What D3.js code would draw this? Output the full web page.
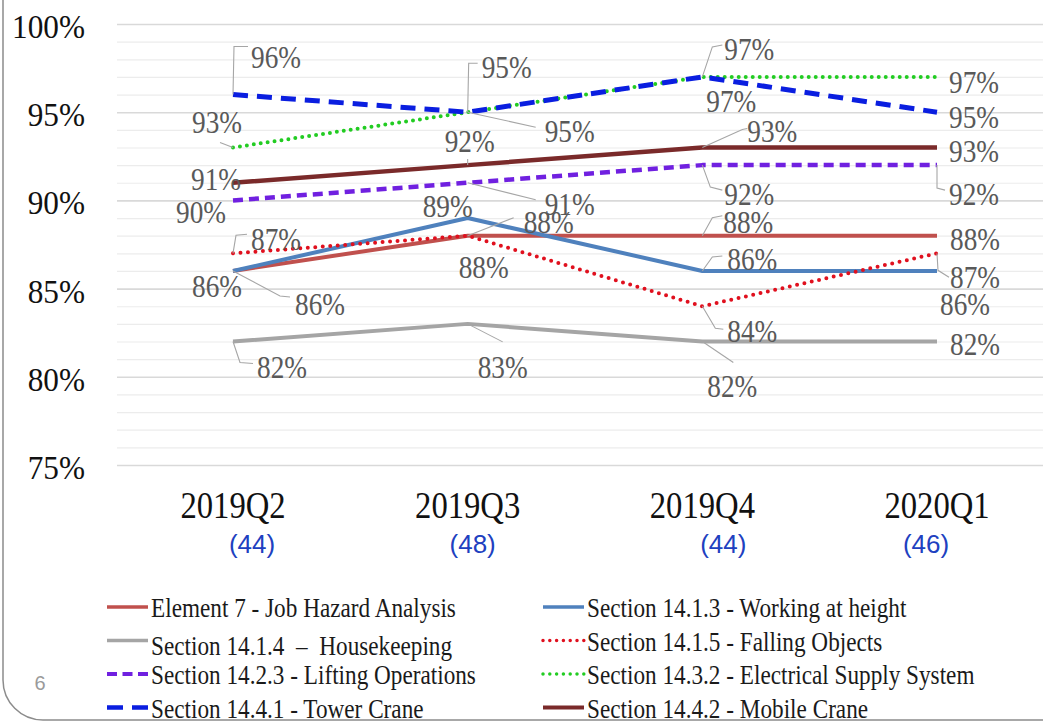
<!DOCTYPE html>
<html>
<head>
<meta charset="utf-8">
<script src="https://cdn.jsdelivr.net/npm/d3@7"></script>
<style>
  html, body { margin: 0; padding: 0; background: #fff; }
  svg { display: block; }
  text { white-space: pre; }
</style>
</head>
<body>
<svg id="chart" width="1043" height="722"></svg>
<script>
// Quarterly compliance scores by audit element
const categories = ["2019Q2", "2019Q3", "2019Q4", "2020Q1"];
const sampleCounts = ["(44)", "(48)", "(44)", "(46)"];
const yTicks = [75, 80, 85, 90, 95, 100];

const seriesNames = [
  "Element 7 - Job Hazard Analysis",
  "Section 14.1.3 - Working at height",
  "Section 14.1.4  \u2013  Housekeeping",
  "Section 14.1.5 - Falling Objects",
  "Section 14.2.3 - Lifting Operations",
  "Section 14.3.2 - Electrical Supply System",
  "Section 14.4.1 - Tower Crane",
  "Section 14.4.2 - Mobile Crane"
];

const jobHazard       = [86, 88, 88, 88];
const workingAtHeight = [86, 89, 86, 86];
const housekeeping    = [82, 83, 82, 82];
const fallingObjects  = [87, 88, 84, 87];
const liftingOps      = [90, 91, 92, 92];
const electrical      = [93, 95, 97, 97];
const towerCrane      = [96, 95, 97, 95];
const mobileCrane     = [91, 92, 93, 93];

const seriesValues = [jobHazard, workingAtHeight, housekeeping, fallingObjects,
                      liftingOps, electrical, towerCrane, mobileCrane];

// line styles per series
const seriesStyles = [
  { color: "#C0504D", width: 4,   dash: null,    cap: "butt" },
  { color: "#4F81BD", width: 4,   dash: null,    cap: "butt" },
  { color: "#A5A5A5", width: 4,   dash: null,    cap: "butt" },
  { color: "#E0101E", width: 4,   dash: "0 7.5", cap: "round" },
  { color: "#7020E0", width: 4.5, dash: "10 6",  cap: "butt" },
  { color: "#22CC22", width: 4,   dash: "0 7",   cap: "round" },
  { color: "#0A1EE0", width: 5,   dash: "15 9",  cap: "butt" },
  { color: "#7A2A2A", width: 4.5, dash: null,    cap: "butt" }
];

// data label placement: [dx, dy (baseline), leader polyline relative to the point]
const labelLayout = [
  [[-16, 26, null], [81, -3, [[0,0],[46,-18]]], [46, -3, [[0,0],[10,-18],[20,-20]]], [38, 14, null]],
  [[87, 44, [[0,0],[47,25],[57,26]]], [-20, -1, null], [50, -1, [[0,0],[10,-14],[20,-15]]], [28, 44, null]],
  [[49, 36, [[0,0],[7,21],[20,22]]], [35, 54, [[0,0],[35,18]]], [30, 55, [[0,0],[31,21]]], [38, 13, null]],
  [[43, -3, [[0,0],[3,-18],[14,-19]]], [16, 42, null], [50, 36, [[0,0],[13,22],[21,23]]], [38, 35, [[0,0],[1,17],[12,24]]]],
  [[-32, 23, null], [102, 32, [[0,0],[68,17]]], [47, 40, [[0,0],[8,22],[20,25]]], [37, 40, [[0,0],[0,23],[8,25]]]],
  [[-16, -14, [[0,0],[-13,-5]]], [102, 30, [[0,0],[68,15]]], [47, -17, [[0,0],[10,-30],[20,-32]]], [37, 16, null]],
  [[43, -27, [[0,0],[1,-48],[15,-48]]], [39, -34, [[0,0],[1,-49],[10,-49]]], [29, 35, null], [37, 16, null]],
  [[-17, 7, null], [2, -13, [[0,0],[0,-6]]], [70, -5, [[0,0],[40,-18],[45,-19]]], [37, 15, null]]
];

// horizontal offsets of the sample-count captions under each quarter
const countOffsets = [19, 5, 21, -11];

const W = 1043, H = 722;
const svg = d3.select("#chart");
const serif = "'Liberation Serif', 'Times New Roman', serif";
const sans = "'Liberation Sans', Arial, sans-serif";

const x = d3.scalePoint().domain(categories).range([233, 937]);
const y = d3.scaleLinear().domain([75, 100]).range([465, 24]);
const gridLeft = 117;

// slide frame with rounded lower-left corner
svg.append("path")
  .attr("d", `M3,-10 L3,680 A40,40 0 0 0 43,720 L${W + 10},720`)
  .attr("fill", "none")
  .attr("stroke", "#8C8C8C")
  .attr("stroke-width", 1.5);

// gridlines (every 1%, darker every 5%)
const grid = svg.append("g")
  .attr("transform", `translate(${gridLeft},0)`)
  .call(d3.axisRight(y).tickValues(d3.range(75, 101, 1)).tickSize(W - gridLeft).tickFormat(""));
grid.select(".domain").remove();
grid.selectAll(".tick line")
  .attr("stroke", d => d % 5 === 0 ? "#D9D9D9" : "#ECECEC")
  .attr("stroke-width", d => d % 5 === 0 ? 1.6 : 1.2);

// condensed text helper
function label(g, px, py, str, opts) {
  return g.append("text")
    .attr("transform", `translate(${px},${py}) scale(${opts.sx || 1},1)`)
    .attr("text-anchor", opts.anchor || "start")
    .attr("font-family", opts.family || serif)
    .attr("font-size", opts.size)
    .attr("fill", opts.fill || "#000")
    .text(str);
}

// y tick labels
const yAxisG = svg.append("g");
yTicks.forEach(t => label(yAxisG, 85, y(t) + 14, t + "%", { size: 34, sx: 0.92, anchor: "end", fill: "#111" }));

// x category labels and sample counts
const xAxisG = svg.append("g");
categories.forEach((c, i) => {
  label(xAxisG, x(c), 518, c, { size: 38, sx: 0.86, anchor: "middle", fill: "#111" });
  label(xAxisG, x(c) + countOffsets[i], 553, sampleCounts[i], { size: 26, family: sans, anchor: "middle", fill: "#2040C0" });
});

// series lines
const line = d3.line().x((d, i) => x(categories[i])).y(d => y(d));
const linesG = svg.append("g");
seriesValues.forEach((vals, s) => {
  const st = seriesStyles[s];
  linesG.append("path")
    .datum(vals)
    .attr("d", line)
    .attr("fill", "none")
    .attr("stroke", st.color)
    .attr("stroke-width", st.width)
    .attr("stroke-dasharray", st.dash)
    .attr("stroke-linecap", st.cap)
    .attr("stroke-linejoin", "round");
});

// data labels with leader lines
const labelsG = svg.append("g");
const leader = d3.line();
seriesValues.forEach((vals, s) => {
  vals.forEach((v, i) => {
    const px = x(categories[i]), py = y(v);
    const [dx, dy, pts] = labelLayout[s][i];
    if (pts) {
      labelsG.append("path")
        .attr("d", leader(pts.map(p => [px + p[0], py + p[1]])))
        .attr("fill", "none")
        .attr("stroke", "#A6A6A6")
        .attr("stroke-width", 1.1);
    }
    label(labelsG, px + dx, py + dy, v + "%", { size: 31, sx: 0.88, anchor: "middle", fill: "#595959" });
  });
});

// legend: two columns, filled row by row
const legendG = svg.append("g");
seriesNames.forEach((name, s) => {
  const col = s % 2, row = Math.floor(s / 2);
  const x0 = col === 0 ? 107 : 543;
  const ly = 607 + row * 33.5;
  const st = seriesStyles[s];
  legendG.append("line")
    .attr("x1", x0).attr("x2", x0 + 41)
    .attr("y1", ly).attr("y2", ly)
    .attr("stroke", st.color)
    .attr("stroke-width", st.width - 0.5)
    .attr("stroke-dasharray", st.dash ? (st.cap === "round" ? "0 6.8" : (s === 6 ? "16 9" : "10 5.5")) : null)
    .attr("stroke-linecap", st.cap);
  label(legendG, x0 + 44, ly + 10 + (s === 2 ? 4 : 0), name, { size: 27, sx: 0.86, fill: "#1A1A1A" });
});

// slide number
label(svg, 40, 690, "6", { size: 20, family: sans, anchor: "middle", fill: "#9A9A9A" });
</script>
</body>
</html>
